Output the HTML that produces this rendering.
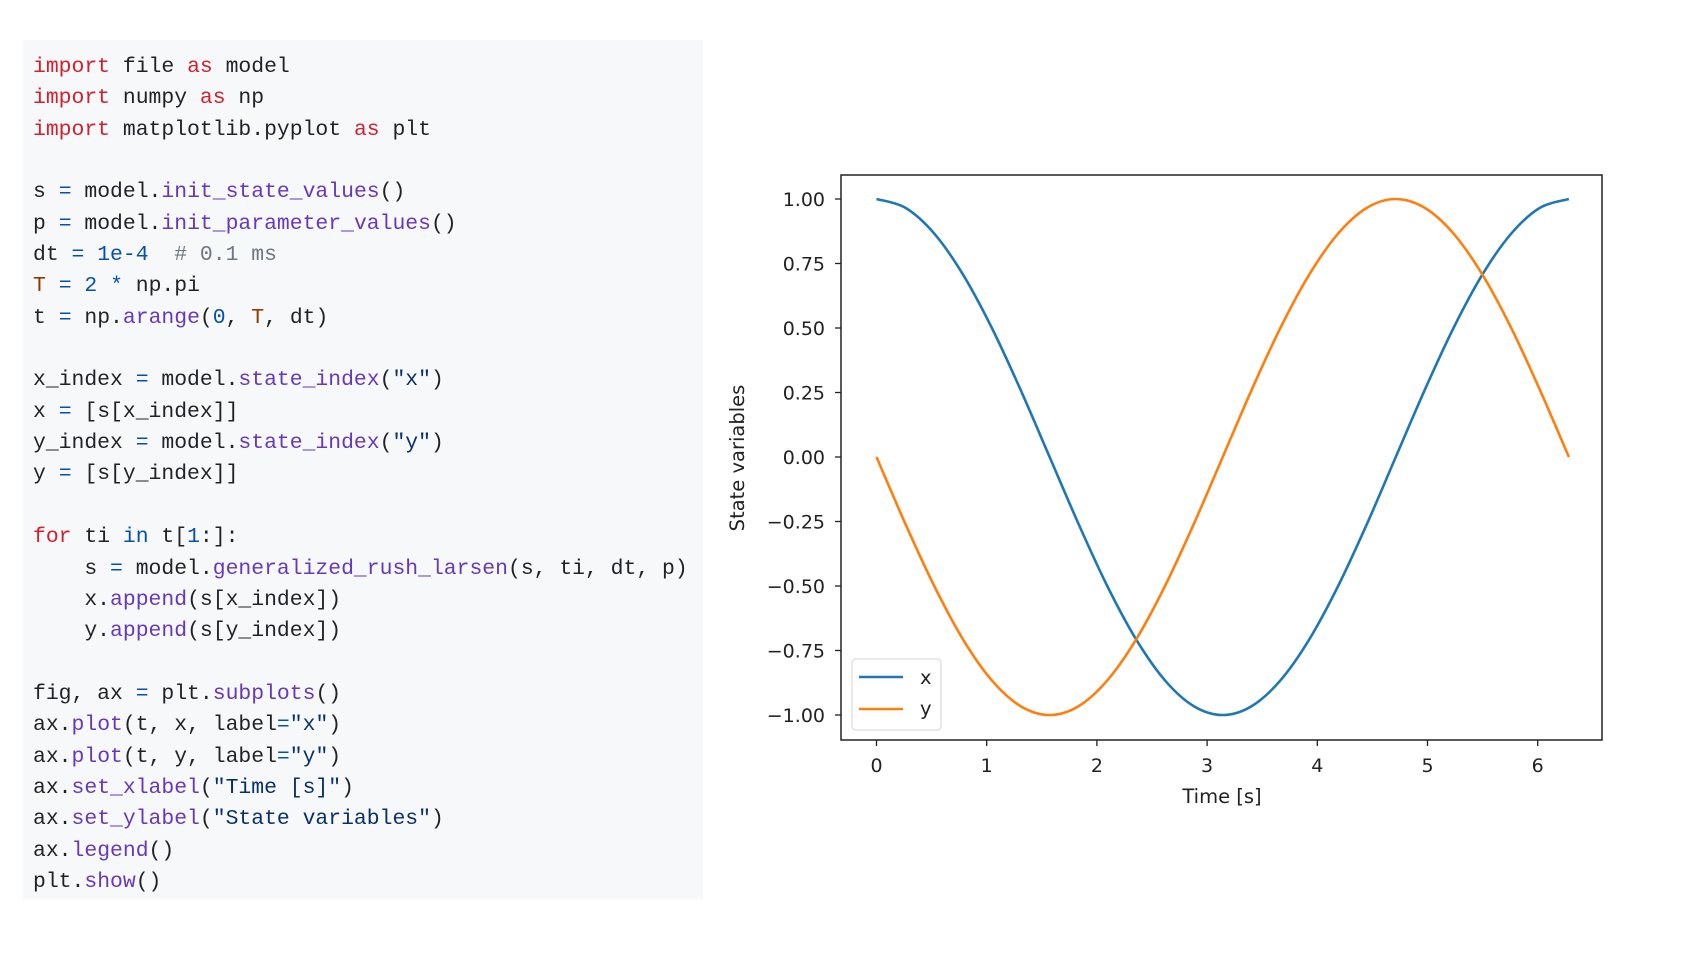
<!DOCTYPE html>
<html><head><meta charset="utf-8"><style>
html,body{margin:0;padding:0;background:#fff;width:1700px;height:956px;overflow:hidden}
#code{position:absolute;left:23px;top:40px;width:680px;height:859px;background:#f6f8fa}
pre{position:absolute;left:10px;top:12px;margin:0;font-family:"Liberation Mono","DejaVu Sans Mono",monospace;font-size:21.4px;line-height:31.35px;color:#1f2328}
.k{color:#cf222e}.f{color:#6639ba}.n{color:#0550ae}.s{color:#0a3069}.v{color:#953800}.c{color:#6e7781}
svg{position:absolute;left:0;top:0}
svg text{font-family:"DejaVu Sans","Liberation Sans",sans-serif;fill:#222}
</style></head><body>
<div id="code"><pre><span class="k">import</span> file <span class="k">as</span> model
<span class="k">import</span> numpy <span class="k">as</span> np
<span class="k">import</span> matplotlib.pyplot <span class="k">as</span> plt

s <span class="n">=</span> model.<span class="f">init_state_values</span>()
p <span class="n">=</span> model.<span class="f">init_parameter_values</span>()
dt <span class="n">=</span> <span class="n">1e-4</span>  <span class="c"># 0.1 ms</span>
<span class="v">T</span> <span class="n">=</span> <span class="n">2</span> <span class="n">*</span> np.pi
t <span class="n">=</span> np.<span class="f">arange</span>(<span class="n">0</span>, <span class="v">T</span>, dt)

x_index <span class="n">=</span> model.<span class="f">state_index</span>(<span class="s">"x"</span>)
x <span class="n">=</span> [s[x_index]]
y_index <span class="n">=</span> model.<span class="f">state_index</span>(<span class="s">"y"</span>)
y <span class="n">=</span> [s[y_index]]

<span class="k">for</span> ti <span class="n">in</span> t[<span class="n">1</span>:]:
    s <span class="n">=</span> model.<span class="f">generalized_rush_larsen</span>(s, ti, dt, p)
    x.<span class="f">append</span>(s[x_index])
    y.<span class="f">append</span>(s[y_index])

fig, ax <span class="n">=</span> plt.<span class="f">subplots</span>()
ax.<span class="f">plot</span>(t, x, label<span class="n">=</span><span class="s">"x"</span>)
ax.<span class="f">plot</span>(t, y, label<span class="n">=</span><span class="s">"y"</span>)
ax.<span class="f">set_xlabel</span>(<span class="s">"Time [s]"</span>)
ax.<span class="f">set_ylabel</span>(<span class="s">"State variables"</span>)
ax.<span class="f">legend</span>()
plt.<span class="f">show</span>()</pre></div>
<svg id="chart" width="1700" height="956"></svg>
<script>
const tValues=[0,0.262,0.524,0.785,1.047,1.309,1.571,1.833,2.094,2.356,2.618,2.880,3.142,3.403,3.665,3.927,4.189,4.451,4.712,4.974,5.236,5.498,5.760,6.021,6.283];
const xValues=[1,0.966,0.866,0.707,0.5,0.259,0,-0.259,-0.5,-0.707,-0.866,-0.966,-1,-0.966,-0.866,-0.707,-0.5,-0.259,0,0.259,0.5,0.707,0.866,0.966,1];
const yValues=[0,-0.259,-0.5,-0.707,-0.866,-0.966,-1,-0.966,-0.866,-0.707,-0.5,-0.259,0,0.259,0.5,0.707,0.866,0.966,1,0.966,0.866,0.707,0.5,0.259,0];
const xTicks=[0,1,2,3,4,5,6];
const xTickLabels=["0","1","2","3","4","5","6"];
const yTicks=[1,0.75,0.5,0.25,0,-0.25,-0.5,-0.75,-1];
const yTickLabels=["1.00","0.75","0.50","0.25","0.00","\u22120.25","\u22120.50","\u22120.75","\u22121.00"];
const NS="http://www.w3.org/2000/svg";
const svg=document.getElementById('chart');
const L=841,R=1602,T=175,B=740;
const sx=v=>876.5+v*110.2;
const sy=v=>457-v*258;
function mk(tag,attrs,parent){const e=document.createElementNS(NS,tag);for(const k in attrs)e.setAttribute(k,attrs[k]);(parent||svg).appendChild(e);return e;}
function path(xs,ys){const p=xs.map((x,i)=>[sx(x),sy(ys[i])]);let d=`M${p[0][0]},${p[0][1]}`;
 for(let i=0;i<p.length-1;i++){const p0=p[Math.max(i-1,0)],p1=p[i],p2=p[i+1],p3=p[Math.min(i+2,p.length-1)];
 const c1=[p1[0]+(p2[0]-p0[0])/6,p1[1]+(p2[1]-p0[1])/6],c2=[p2[0]-(p3[0]-p1[0])/6,p2[1]-(p3[1]-p1[1])/6];
 d+=` C${c1[0]},${c1[1]} ${c2[0]},${c2[1]} ${p2[0]},${p2[1]}`;}return d;}
const lx=mk('path',{d:path(tValues,xValues),fill:'none',stroke:'#1f77b4','stroke-width':2.6});


const ly=mk('path',{d:path(tValues,yValues),fill:'none',stroke:'#ff7f0e','stroke-width':2.6});


const frame=mk('rect',{x:L,y:T,width:R-L,height:B-T,fill:'none',stroke:'#222','stroke-width':1.5});


xTicks.forEach((v,i)=>{const x=sx(v);
 const tk=mk('line',{x1:x,x2:x,y1:B,y2:B+6,stroke:'#222','stroke-width':1.3});
 
 
 const tl=mk('text',{x:x,y:772,'text-anchor':'middle','font-size':19});tl.textContent=xTickLabels[i];
 
 });
yTicks.forEach((v,i)=>{const y=sy(v);
 const tk=mk('line',{x1:L-6,x2:L,y1:y,y2:y,stroke:'#222','stroke-width':1.3});
 
 
 const tl=mk('text',{x:825,y:y+7,'text-anchor':'end','font-size':19});tl.textContent=yTickLabels[i];
 
 });
const xl=mk('text',{x:1222,y:803,'text-anchor':'middle','font-size':19.5});xl.textContent='Time [s]';


const yl=mk('text',{x:0,y:0,'text-anchor':'middle','font-size':19.5,transform:'translate(744,458) rotate(-90)'});yl.textContent='State variables';


const lg=mk('g',{});


mk('rect',{x:852,y:659,width:89,height:71,rx:4,fill:'#fff','fill-opacity':0.85,stroke:'#ddd','stroke-width':1.3},lg);
const e1=mk('g',{},lg);


mk('line',{x1:859,x2:903,y1:677,y2:677,stroke:'#1f77b4','stroke-width':2.6},e1);
mk('text',{x:920,y:684,'font-size':19.5},e1).textContent='x';
const e2=mk('g',{},lg);


mk('line',{x1:859,x2:903,y1:709,y2:709,stroke:'#ff7f0e','stroke-width':2.6},e2);
mk('text',{x:920,y:715,'font-size':19.5},e2).textContent='y';
</script>
</body></html>
